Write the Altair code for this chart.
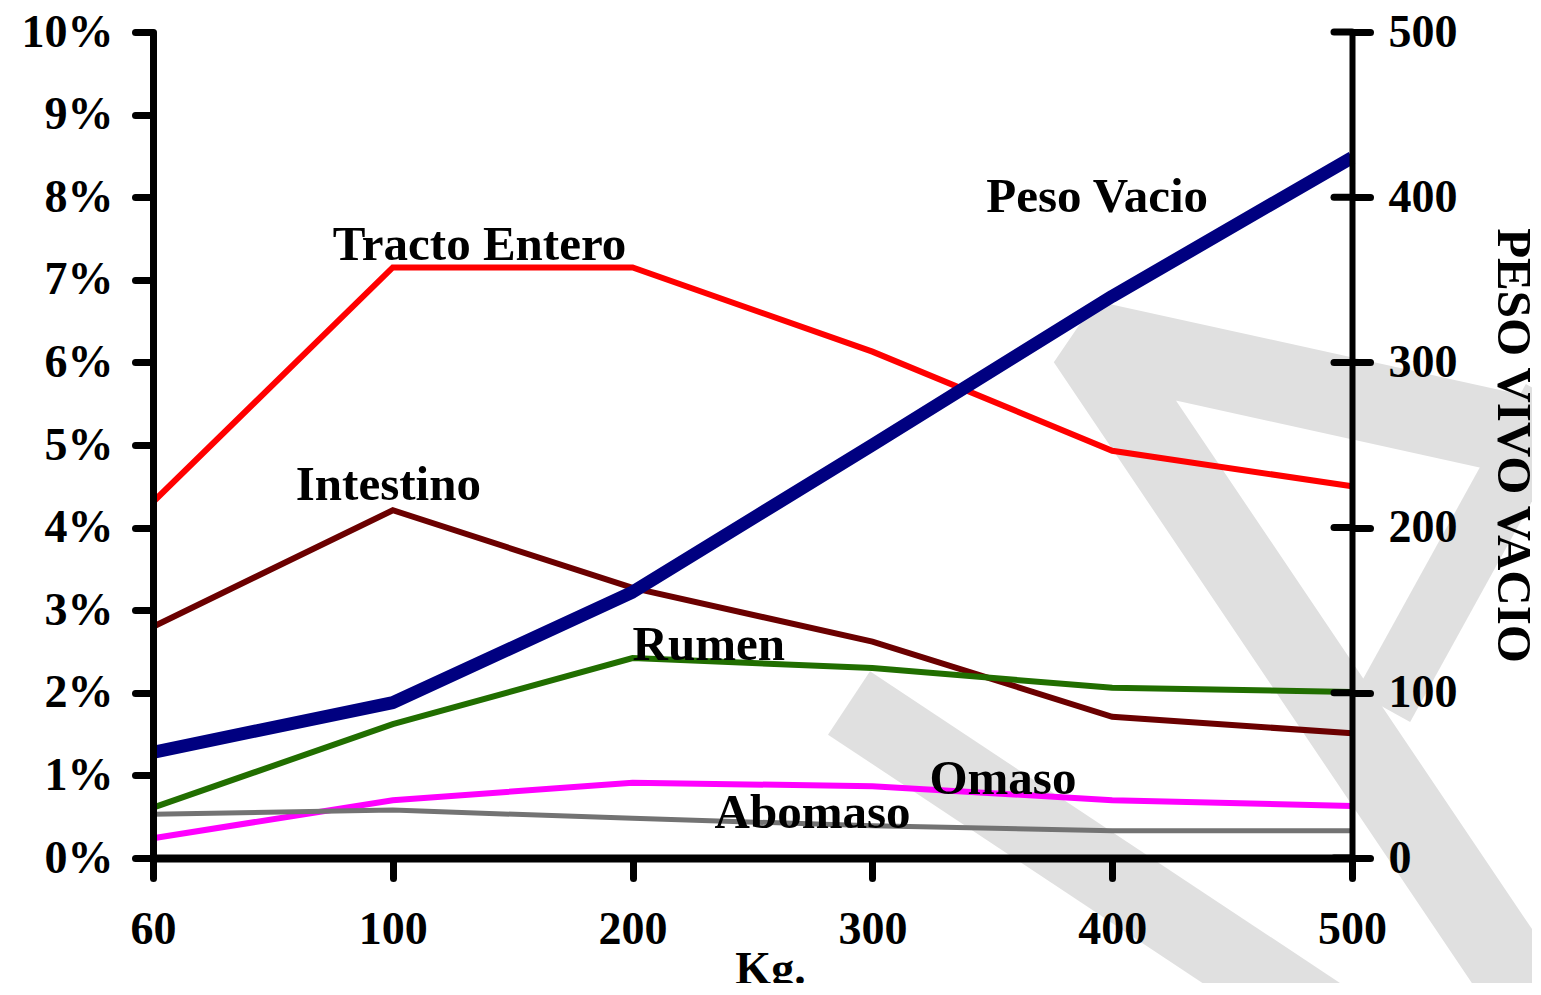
import altair as alt
import pandas as pd

# ---- data ----
kg = ["60", "100", "200", "300", "400", "500"]
tracto_entero = [4.31, 7.15, 7.15, 6.13, 4.93, 4.50]   # % of live weight
intestino = [2.80, 4.21, 3.27, 2.62, 1.71, 1.51]
rumen = [0.61, 1.62, 2.42, 2.30, 2.06, 2.01]
omaso = [0.24, 0.70, 0.91, 0.87, 0.70, 0.63]
abomaso = [0.53, 0.58, 0.48, 0.39, 0.33, 0.33]
peso_vacio = [64, 94, 161, 250, 340, 424]               # right axis
pct_ticks = [0, 1, 2, 3, 4, 5, 6, 7, 8, 9, 10]
peso_ticks = [0, 100, 200, 300, 400, 500]

# ---- decorative watermark (background shape, pixel space) ----
wm_a_x = [1388, 934, 1392]
wm_a_y = [408, 308, 988]
wm_b_x = [1400, 1230]
wm_b_y = [367, 675]
wm_c_x = [696, 1177]
wm_c_y = [671, 990]

W, H = 1199, 826
FONT = "Liberation Serif"

series = [
    ("Tracto Entero", tracto_entero, "#ff0000", 6),
    ("Intestino", intestino, "#6b0000", 6),
    ("Rumen", rumen, "#216e00", 6),
    ("Omaso", omaso, "#ff00ff", 6),
    ("Abomaso", abomaso, "#737373", 5),
]

x_axis = alt.Axis(
    title="Kg.", labelAngle=0, labelFont=FONT, labelFontWeight="bold",
    labelFontSize=46, labelColor="black", labelBaseline="top",
    tickSize=20, tickWidth=7, tickColor="black", tickCap="round",
    labelPadding=29, domainColor="black", domainWidth=8,
    titleFont=FONT, titleFontWeight="bold", titleFontSize=46, titleColor="black",
    titleX=617, titleY=125, titleAlign="center", titleBaseline="alphabetic",
    zindex=1, grid=False,
)
x_scale = alt.Scale(type="point", padding=0)
x_enc = alt.X("kg:O", sort=kg, scale=x_scale, axis=x_axis)
x_noaxis = alt.X("kg:O", sort=kg, scale=x_scale, axis=None)

left_axis = alt.Axis(
    values=[v / 100 for v in pct_ticks], format=".0%", title=None,
    labelFont=FONT, labelFontWeight="bold", labelFontSize=46, labelColor="black",
    labelPadding=22, tickSize=18, tickWidth=7, tickColor="black", tickCap="round",
    domainColor="black", domainWidth=7, grid=False, zindex=1,
)
left_scale = alt.Scale(domain=[0, 0.1], nice=False)

right_axis = alt.Axis(
    values=peso_ticks, title="PESO VIVO VACIO", orient="right",
    labelFont=FONT, labelFontWeight="bold", labelFontSize=46, labelColor="black",
    labelPadding=18, tickSize=18, tickWidth=7, tickColor="black", tickCap="round",
    domainColor="black", domainWidth=6, grid=False, zindex=1,
    titleFont=FONT, titleFontWeight="bold", titleFontSize=49, titleColor="black",
    titleAngle=90, titleX=160, titleY=413, titleAlign="center", titleBaseline="middle",
)
right_scale = alt.Scale(domain=[0, 500], nice=False)

# watermark
wm_layers = []
for xs, ys, sw in [(wm_a_x, wm_a_y, 80), (wm_b_x, wm_b_y, 62), (wm_c_x, wm_c_y, 76)]:
    d = pd.DataFrame({"px": xs, "py": ys, "i": list(range(len(xs)))})
    wm_layers.append(
        alt.Chart(d).mark_line(color="#e0e0e0", strokeWidth=sw, strokeJoin="bevel",
                               strokeCap="butt").encode(
            x=alt.X("px:Q", scale=None, axis=None),
            y=alt.Y("py:Q", scale=None, axis=None),
            order="i:Q",
        )
    )
watermark = alt.layer(*wm_layers)

# left (percent) series
left_layers = []
for name, vals, col, sw in series:
    d = pd.DataFrame({"kg": kg, "v": [v / 100 for v in vals]})
    left_layers.append(
        alt.Chart(d).mark_line(color=col, strokeWidth=sw, strokeJoin="miter").encode(
            x=x_enc,
            y=alt.Y("v:Q", scale=left_scale, axis=left_axis),
        )
    )

label_specs = [
    ("Tracto Entero", tracto_entero, "100", -60, -7),
    ("Intestino", intestino, "100", -97, -10),
    ("Rumen", rumen, "200", 0, 2),
    ("Omaso", omaso, "300", 57, 8),
    ("Abomaso", abomaso, "200", 82, 10),
]
for name, vals, at, dx, dy in label_specs:
    d = pd.DataFrame({"kg": [at], "v": [vals[kg.index(at)] / 100], "t": [name]})
    left_layers.append(
        alt.Chart(d).mark_text(font=FONT, fontWeight="bold", fontSize=49, color="black",
                               align="left", baseline="alphabetic", dx=dx, dy=dy).encode(
            x=x_enc,
            y=alt.Y("v:Q", scale=left_scale, axis=left_axis),
            text="t:N",
        )
    )
left = alt.layer(*left_layers)

# right (peso vacio)
dp = pd.DataFrame({"kg": kg, "p": peso_vacio})
peso_line = alt.Chart(dp).mark_line(color="#000080", strokeWidth=13, strokeJoin="round").encode(
    x=x_noaxis,
    y=alt.Y("p:Q", scale=right_scale, axis=right_axis),
)
dt = pd.DataFrame({"p": peso_ticks})
inner_ticks = alt.Chart(dt).mark_rule(color="black", strokeWidth=7, strokeCap="round").encode(
    x=alt.value(W - 18), x2=alt.value(W),
    y=alt.Y("p:Q", scale=right_scale, axis=right_axis),
)
dl = pd.DataFrame({"kg": ["400"], "p": [peso_vacio[4]], "t": ["Peso Vacio"]})
peso_label = alt.Chart(dl).mark_text(font=FONT, fontWeight="bold", fontSize=49, color="black",
                                     align="left", baseline="alphabetic", dx=-126, dy=-84).encode(
    x=x_noaxis,
    y=alt.Y("p:Q", scale=right_scale, axis=right_axis),
    text="t:N",
)
right = alt.layer(peso_line, inner_ticks, peso_label)

chart = alt.layer(watermark, left, right).resolve_scale(
    x="independent", y="independent"
).properties(
    width=W, height=H,
    autosize=alt.AutoSizeParams(type="none"),
    padding={"left": 145, "top": 24, "right": 180, "bottom": 125},
    background="white",
).configure_view(stroke=None)

chart.save("out.html", embed_options={"renderer": "svg", "actions": False})
